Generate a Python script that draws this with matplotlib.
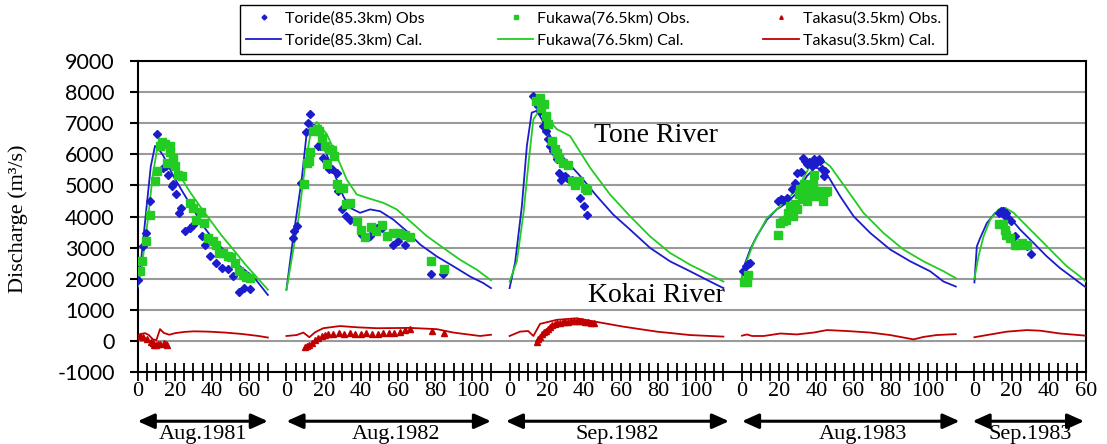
import numpy as np
import matplotlib
matplotlib.use("Agg")
import matplotlib.pyplot as plt
from matplotlib.lines import Line2D

plt.rcParams["axes.unicode_minus"] = False

# ---- data: (hour, discharge m3/s) per flood event ----
# Aug.1981
a81_tor_cal = [(0, 1700), (2, 2700), (4.8, 4330), (7, 5600), (9.3, 6270), (11, 6200), (13.8, 5950),
               (19.2, 5300), (24.5, 4760), (29.9, 4230), (35.3, 3690), (40.7, 3260), (47.9, 2830),
               (55, 2400), (62.2, 2070), (70, 1480)]
a81_fuk_cal = [(0, 1750), (2, 2300), (5.7, 4010), (8, 5300), (10.5, 6200), (12.9, 6480), (15, 6300),
               (18, 5800), (22.8, 5300), (28, 4800), (33.5, 4330), (40, 3800), (45, 3400),
               (51.4, 2940), (58, 2450), (64, 2050), (70, 1650)]
a81_tor_obs = [(0.3, 1970), (2.7, 3060), (4.5, 3470), (6.6, 4490), (10.6, 6650), (13.8, 5570),
               (15.1, 5620), (16.5, 5350), (18.3, 4980), (19.2, 5030), (20.4, 4710), (22.2, 4120),
               (23.3, 4280), (25.4, 3530), (28.1, 3640), (29.9, 3740), (34.4, 3370), (36.2, 3100),
               (38.9, 2720), (42.1, 2500), (45.2, 2340), (48.4, 2310), (51.4, 2100), (54.3, 1570),
               (57.3, 1700), (60.4, 1670)]
a81_fuk_obs = [(1.2, 2240), (2.5, 2580), (4.3, 3200), (6.6, 4060), (9.5, 5140), (10.5, 5460),
               (12, 6270), (13.2, 6400), (14.7, 6340), (15.6, 5730), (17.1, 6060), (17.4, 6270),
               (18.8, 5890), (20.1, 5620), (21.8, 5350), (24, 5300), (28.1, 4440), (29.6, 4280),
               (31.4, 3900), (34.1, 4150), (35.7, 3800), (38, 3310), (40.7, 3200), (42.1, 3090),
               (43.9, 2830), (46, 2830), (48.4, 2720), (50.2, 2700), (52.3, 2500), (54.3, 2240),
               (56.5, 2130), (58.3, 2070), (60.4, 2040)]
a81_tak_cal = [(0, 180), (2, 230), (4, 250), (6, 190), (8, 60), (10, 20), (12, 380), (14, 260),
               (17, 200), (20, 250), (25, 290), (30, 310), (38, 300), (47, 270), (56, 225),
               (65, 160), (70, 110)]
a81_tak_obs = [(1, 150), (3, 120), (5, 50), (7, -30), (8, -80), (9, -120), (10, -130), (11, -110),
               (12, -90), (14, -60), (15, -100), (16, -140)]

# Aug.1982
a82_tor_cal = [(0, 1650), (3.7, 3360), (8.2, 5190), (10.9, 6700), (13.6, 6910), (16.3, 6750),
               (19.8, 6270), (23.4, 5730), (27, 5190), (30.6, 4650), (34.2, 4280), (39.6, 4120),
               (45, 4230), (50.4, 4170), (57.5, 3900), (64.7, 3530), (71.9, 3100), (80.8, 2720),
               (89.8, 2400), (98.8, 2070), (105.9, 1860), (110, 1700)]
a82_fuk_cal = [(0, 1650), (3, 2700), (6.4, 3900), (10, 5620), (13, 6700), (16.3, 7040), (21.7, 6650),
               (27, 5950), (32.4, 5190), (37.8, 4710), (45, 4570), (52.1, 4440), (59.3, 4230),
               (66.5, 3850), (75.5, 3370), (84.4, 2990), (93.4, 2610), (102.4, 2290), (110, 1950)]
a82_tor_obs = [(3.4, 3310), (4.2, 3530), (5.5, 3690), (7.7, 5090), (10.5, 6720), (11.8, 7020),
               (12.7, 7290), (14.1, 6860), (17.1, 6270), (18, 6270), (19.8, 5890), (21.3, 5780),
               (23.1, 5520), (24.3, 5520), (27, 5410), (27.9, 4820), (29.7, 4230), (32, 4010),
               (34.2, 3900), (40.5, 3420), (45, 3360), (48.6, 3630), (51.3, 3630), (57.5, 3100),
               (60.2, 3200), (63.8, 3070), (77.8, 2150), (84.4, 2150)]
a82_fuk_obs = [(9.6, 5050), (10.9, 5730), (12.1, 5770), (12.7, 6080), (14.5, 6750), (16.3, 6810),
               (17.6, 6750), (19, 6540), (20.8, 6270), (21.7, 5700), (23.1, 6160), (24.3, 6140),
               (25.8, 5950), (27, 5030), (28.8, 4930), (30.2, 4930), (32, 4390), (34.2, 4420),
               (38.1, 3850), (40.1, 3580), (42.3, 3330), (45.3, 3660), (48.2, 3550), (51.3, 3740),
               (54.3, 3360), (57.5, 3460), (60.6, 3480), (63.5, 3420), (66.5, 3330), (77.8, 2580),
               (84.8, 2320)]
a82_tak_cal = [(0, 160), (5.5, 190), (9.1, 270), (12.3, 120), (15.4, 280), (19.8, 410), (28.8, 480),
               (37.8, 440), (48.6, 410), (66.5, 420), (80.8, 380), (89.8, 270), (104.1, 160),
               (110, 200)]
a82_tak_obs = [(10, -180), (11.3, -150), (12.3, -130), (13.6, -60), (15.4, 20), (17.1, 100),
               (19, 170), (20.8, 200), (22.5, 220), (25, 230), (28, 240), (31, 230), (34, 240),
               (37, 230), (40, 220), (43, 240), (46, 230), (49, 220), (52, 240), (55, 250),
               (58, 270), (61, 300), (64, 340), (66.5, 380), (78.2, 330), (84.8, 240)]

# Sep.1982
s82_tor_cal = [(0, 1700), (3, 2530), (6.6, 4330), (9.3, 6270), (11.9, 7340), (14.6, 7400),
               (17.3, 7130), (21.8, 6590), (29, 5890), (38, 5300), (47, 4650), (55.8, 4060),
               (64.8, 3580), (75.6, 2990), (86.3, 2560), (97.1, 2240), (107.9, 1910), (115, 1700)]
s82_fuk_cal = [(0, 1910), (3.9, 2560), (7.5, 4120), (10.2, 5730), (12.8, 7130), (16, 7400),
               (20, 7180), (25.4, 6810), (32.5, 6590), (43.3, 5570), (54, 4710), (64.8, 4010),
               (75.6, 3360), (86.3, 2830), (97.1, 2450), (107.9, 2130), (115, 1910)]
s82_tor_obs = [(12.8, 7860), (15.2, 7560), (16.4, 7400), (18.2, 6910), (19.6, 6750), (20.9, 6480),
               (21.8, 6270), (23.6, 6110), (25.4, 5840), (26.8, 5410), (27.7, 5190), (29.9, 5300),
               (31.1, 5250), (33.5, 5190), (38, 4600), (40.2, 4350), (41.8, 4060)]
s82_fuk_obs = [(14.3, 7720), (16.4, 7800), (17, 7500), (18.6, 7610), (19.7, 7240), (20.9, 6970),
               (22.7, 6430), (24.5, 6160), (25.4, 6030), (26.8, 5890), (29, 5730), (31.4, 5650),
               (33.5, 5140), (35.3, 5000), (37.6, 5140), (40.6, 4920), (41.8, 4860)]
s82_tak_cal = [(0, 160), (5.6, 300), (10, 320), (12.8, 160), (16.4, 550), (25.4, 680), (36.1, 730),
               (43.3, 650), (61.2, 460), (79.2, 300), (97.1, 190), (115, 140)]
s82_tak_obs = [(14.6, -20), (15.5, 60), (16.4, 140), (17.5, 220), (18.5, 280), (19.6, 320),
               (20.7, 400), (21.8, 460), (23, 510), (24.2, 540), (25.4, 570), (27, 590),
               (28.5, 600), (30, 620), (31.5, 610), (33, 630), (34.5, 640), (36.1, 650),
               (37.5, 630), (39, 640), (40.5, 620), (42, 600), (43.6, 590), (45.2, 570)]

# Aug.1983
a83_tor_cal = [(0, 2020), (1.7, 2500), (4.4, 2940), (7.9, 3360), (13.4, 3900), (18.7, 4230),
               (24.1, 4440), (29.5, 4760), (34.9, 5300), (39.3, 5570), (43.8, 5520), (47.4, 5190),
               (52.8, 4650), (60, 4010), (69, 3470), (79.7, 2940), (90.5, 2560), (101.2, 2240),
               (108.4, 1910), (115, 1750)]
a83_fuk_cal = [(0, 1950), (0.8, 2290), (6.2, 3150), (13.4, 3950), (20.5, 4330), (29.5, 4870),
               (36.6, 5620), (42, 5860), (47.4, 5620), (56.4, 4870), (65.3, 4120), (76.1, 3470),
               (86.8, 2940), (97.6, 2560), (108.4, 2240), (115, 2020)]
a83_tor_obs = [(0.8, 2240), (2.2, 2400), (3.4, 2460), (4.3, 2500), (19.6, 4490), (20.9, 4550),
               (22.3, 4520), (24.1, 4600), (26.8, 4870), (28.6, 5090), (29.5, 5410), (31.6, 5430),
               (32.7, 5890), (33.9, 5790), (34.9, 5680), (36.3, 5750), (37.6, 5620), (38.5, 5840),
               (39.9, 5730), (41.2, 5840), (42.1, 5790), (43, 5520), (43.9, 5300), (44.8, 5460)]
a83_fuk_obs = [(1.1, 1880), (2.5, 1910), (3.4, 2130), (19.3, 3420), (20.5, 3800), (22, 3850),
               (23.8, 3900), (25, 4120), (25.6, 4350), (27.7, 4010), (28.6, 4390), (29.5, 4230),
               (30.4, 4710), (31.3, 4870), (32.2, 4550), (33.4, 5030), (34, 4600), (34.9, 4490),
               (35.8, 4760), (36.6, 4650), (38.1, 5030), (38.7, 5350), (39.8, 4820), (41.1, 4650),
               (42, 4820), (43.4, 4490), (44.6, 4790), (45.5, 4820)]
a83_tak_cal = [(0, 170), (2.7, 210), (5.4, 160), (11.7, 160), (20.7, 240), (29.5, 210), (38.5, 270),
               (45.7, 350), (56.4, 320), (69, 270), (79.7, 190), (92.3, 50), (97.6, 130),
               (104.7, 190), (115, 220)]

# Sep.1983
s83_tor_cal = [(0, 1880), (1.3, 3040), (3.1, 3310), (6.7, 3790), (11.2, 4120), (14.8, 4170),
               (19.2, 3960), (24.6, 3580), (31.8, 3150), (38.9, 2720), (46.1, 2340), (53.3, 2020),
               (60, 1720)]
s83_fuk_cal = [(0, 2000), (2.2, 2720), (4.9, 3360), (8.5, 3900), (13, 4230), (16.6, 4280),
               (21.1, 4120), (28.2, 3690), (35.4, 3260), (42.5, 2830), (49.7, 2400), (56.9, 2070),
               (60, 1910)]
s83_tor_obs = [(13, 4120), (14.2, 4170), (15.3, 4190), (16, 4050), (17.1, 4120), (18.3, 3960),
               (19.8, 3850), (21.9, 3360), (28.2, 3040), (30.4, 2800)]
s83_fuk_obs = [(13, 3770), (15.3, 3770), (16.3, 3580), (17.2, 3420), (19.4, 3310), (21.7, 3100),
               (23.3, 3100), (25.6, 3150), (28.2, 3100)]
s83_tak_cal = [(0, 120), (6.7, 190), (17.5, 300), (28.2, 350), (35.4, 330), (46.1, 240), (60, 170)]

event_names = ["Aug.1981", "Aug.1982", "Sep.1982", "Aug.1983", "Sep.1983"]
tick_labels = [[0, 20, 40, 60], [0, 20, 40, 60, 80, 100], [0, 20, 40, 60, 80, 100],
               [0, 20, 40, 60, 80, 100], [0, 20, 40, 60]]

events = [
    dict(tor_cal=a81_tor_cal, fuk_cal=a81_fuk_cal, tak_cal=a81_tak_cal,
         tor_obs=a81_tor_obs, fuk_obs=a81_fuk_obs, tak_obs=a81_tak_obs),
    dict(tor_cal=a82_tor_cal, fuk_cal=a82_fuk_cal, tak_cal=a82_tak_cal,
         tor_obs=a82_tor_obs, fuk_obs=a82_fuk_obs, tak_obs=a82_tak_obs),
    dict(tor_cal=s82_tor_cal, fuk_cal=s82_fuk_cal, tak_cal=s82_tak_cal,
         tor_obs=s82_tor_obs, fuk_obs=s82_fuk_obs, tak_obs=s82_tak_obs),
    dict(tor_cal=a83_tor_cal, fuk_cal=a83_fuk_cal, tak_cal=a83_tak_cal,
         tor_obs=a83_tor_obs, fuk_obs=a83_fuk_obs, tak_obs=[]),
    dict(tor_cal=s83_tor_cal, fuk_cal=s83_fuk_cal, tak_cal=s83_tak_cal,
         tor_obs=s83_tor_obs, fuk_obs=s83_fuk_obs, tak_obs=[]),
]

# layout of events along one shared time axis
offsets = [0, 80, 200, 325, 450]
lengths = [70, 110, 115, 115, 60]
arrow_span = [(0, 70), (0, 110), (-2, 118), (0, 117), (-1, 59)]
name_x = [35, 59, 58, 65, 30]

BLUE = "#1c1ccc"
GREEN = "#22cc22"
RED = "#c00000"
SERIF = "Liberation Serif"
SANS = "Lato"

fig = plt.figure(figsize=(11.07, 4.44), dpi=100)
ax = fig.add_axes([0.1244, 0.162, 0.9810 - 0.1244, 0.8626 - 0.162])


def xy(pts, off):
    a = np.array(pts, dtype=float).reshape(-1, 2)
    return a[:, 0] + off, a[:, 1]


for k, (ev, off) in enumerate(zip(events, offsets)):
    x, y = xy(ev["tor_cal"], off)
    ax.plot(x, y, color=BLUE, lw=1.3, zorder=3)
    x, y = xy(ev["fuk_cal"], off)
    ax.plot(x, y, color=GREEN, lw=1.3, zorder=3)
    x, y = xy(ev["tak_cal"], off)
    ax.plot(x, y, color=RED, lw=1.3, zorder=3)
    x, y = xy(ev["tor_obs"], off)
    ax.plot(x, y, ls="none", marker="D", ms=4.5, color=BLUE, mec=BLUE, zorder=4)
    x, y = xy(ev["fuk_obs"], off)
    ax.plot(x, y, ls="none", marker="s", ms=6, color=GREEN, mec=GREEN, zorder=4)
    if ev["tak_obs"]:
        x, y = xy(ev["tak_obs"], off)
        ax.plot(x, y, ls="none", marker="^", ms=5, color=RED, mec=RED, zorder=4)

ax.set_xlim(0, 510)
ax.set_ylim(-1000, 9000)
ax.set_yticks(np.arange(-1000, 9001, 1000))
ax.yaxis.grid(True, color="#9a9a9a", lw=1.5)
ax.set_axisbelow(True)
for s in ax.spines.values():
    s.set_linewidth(1.5)
ax.tick_params(axis="y", direction="out", length=5.5, width=1.5, pad=11, labelsize=15.5)
for t in ax.get_yticklabels():
    t.set_fontfamily(SANS)

# x ticks: every 5 h inside each event, labels every 20 h
major, minor, labels = [], [], []
for off, ln, tl in zip(offsets, lengths, tick_labels):
    minor += [off + h for h in range(0, ln + 1, 5)]
    major += [off + h for h in tl]
    labels += [str(h) for h in tl]
ax.set_xticks(major)
ax.set_xticklabels(labels, fontfamily=SERIF, fontsize=16)
ax.set_xticks(minor, minor=True)
ax.tick_params(axis="x", which="both", direction="inout", length=13, width=1.3, pad=1)

# event arrows and names under the axis
trans = ax.get_xaxis_transform()
for off, (a, b), nx, name in zip(offsets, arrow_span, name_x, event_names):
    ax.annotate("", xy=(off + a, -0.158), xytext=(off + b, -0.158), xycoords=trans,
                textcoords=trans, annotation_clip=False,
                arrowprops=dict(arrowstyle="<|-|>,head_length=1.0,head_width=0.45",
                                color="black", lw=2.2, shrinkA=0, shrinkB=0))
    ax.text(off + nx, -0.2, name, transform=trans, ha="center", va="center",
            fontfamily=SERIF, fontsize=16, clip_on=False)

ax.text(278.8, 6590, "Tone River", fontfamily=SERIF, fontsize=20, ha="center", va="center")
ax.text(278.8, 1450, "Kokai River", fontfamily=SERIF, fontsize=20, ha="center", va="center")

fig.text(0.0163, 0.507, "Discharge (m\u00b3/s)", rotation=90, ha="center", va="center",
         fontfamily=SERIF, fontsize=16)

handles = [
    Line2D([], [], ls="none", marker="D", ms=2.5, color=BLUE),
    Line2D([], [], color=BLUE, lw=1.3),
    Line2D([], [], ls="none", marker="s", ms=2.5, color=GREEN),
    Line2D([], [], color=GREEN, lw=1.3),
    Line2D([], [], ls="none", marker="^", ms=2.5, color=RED),
    Line2D([], [], color=RED, lw=1.3),
]
names = ["Toride(85.3km) Obs", "Toride(85.3km) Cal.", "Fukawa(76.5km) Obs.",
         "Fukawa(76.5km) Cal.", "Takasu(3.5km) Obs.", "Takasu(3.5km) Cal."]
leg = fig.legend(handles, names, ncol=3, loc="center", bbox_to_anchor=(0.536, 0.9336),
                 frameon=True, fancybox=False, edgecolor="black", framealpha=1,
                 prop={"family": SANS, "size": 11.5}, handlelength=2.2, columnspacing=4.6,
                 handletextpad=0.25, borderpad=0.4, labelspacing=0.45)
leg.get_frame().set_linewidth(1.0)

fig.savefig("out.png", dpi=100)
